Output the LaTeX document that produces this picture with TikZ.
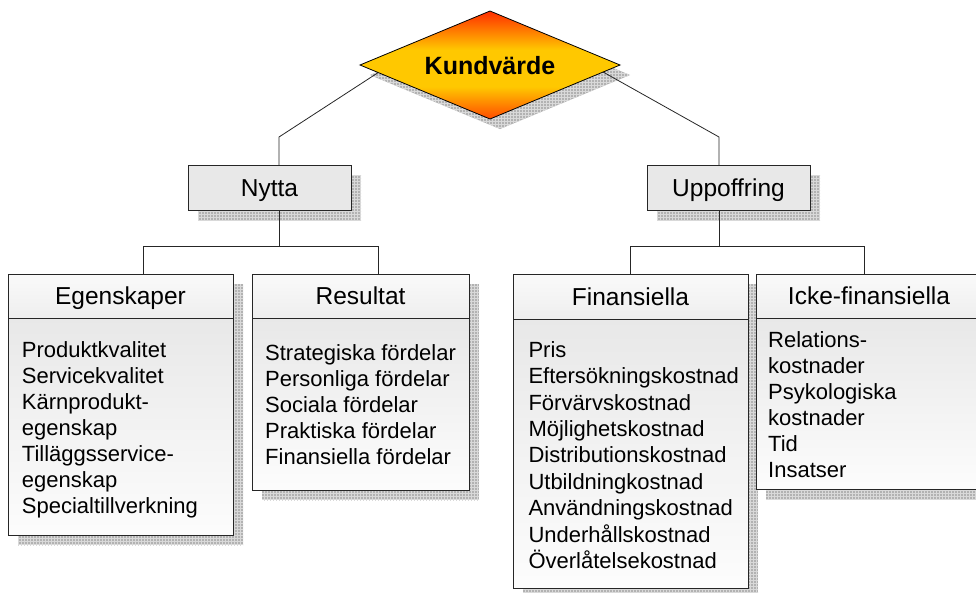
\documentclass[tikz,border=0pt]{standalone}
\usepackage{fontspec}
\setmainfont{Liberation Sans}
\usetikzlibrary{patterns,calc,shapes.geometric,backgrounds}
\definecolor{kvtop}{RGB}{255,45,0}
\definecolor{kvmid}{RGB}{255,200,0}
\definecolor{kvbot}{RGB}{255,75,0}
\pgfdeclareverticalshading{kvshade}{100bp}{color(0bp)=(kvbot); color(25bp)=(kvbot); color(40bp)=(kvmid); color(57bp)=(kvmid); color(75bp)=(kvtop); color(100bp)=(kvtop)}
\begin{document}
\begin{tikzpicture}[x=1pt,y=-1pt,
  shadowfill/.style={fill=gray!60},
  shadowgrid/.style={pattern=grid, pattern color=gray!30},
  conn/.style={draw=black!85, line width=0.8pt},
  lbl/.style={font=\fontsize{24.5}{28}\selectfont, text height=17.5pt, text depth=0pt, inner sep=0pt, outer sep=0pt, draw=black!85, line width=0.8pt},
  smallbox/.style={lbl, fill=gray!18},
  hdr/.style={lbl, top color=gray!4, bottom color=gray!13},
  bodybox/.style={draw=black!85, line width=0.8pt, top color=gray!18, bottom color=gray!2, inner sep=0pt, outer sep=0pt, anchor=north west},
  item/.style={font=\fontsize{22}{26}\selectfont, anchor=base west, inner sep=0pt},
]
\useasboundingbox (0,0) rectangle (976,592);

% top diamond
\node[diamond, aspect=2.4, minimum width=260pt, minimum height=108pt, inner sep=0pt, outer sep=0pt,
      shading=kvshade, draw=black, line width=0.8pt,
      font=\fontsize{25}{28}\selectfont\bfseries, text height=18pt, text depth=0pt] (kv) at (490,65) {Kundvärde};

% second level
\node[smallbox, minimum width=163pt, minimum height=45pt] (nytta) at (269.5,187.5) {Nytta};
\node[smallbox, minimum width=163pt, minimum height=45pt] (upp) at (728.5,187.5) {Uppoffring};

% third level headers and bodies
\node[hdr, anchor=north west, minimum width=225pt, minimum height=44pt] (egH) at (8,274) {Egenskaper};
\node[bodybox, minimum width=225pt, minimum height=217pt] (egB) at (8,318) {};
\node[hdr, anchor=north west, minimum width=217pt, minimum height=44pt] (reH) at (252,274) {Resultat};
\node[bodybox, minimum width=217pt, minimum height=172pt] (reB) at (252,318) {};
\node[hdr, anchor=north west, minimum width=235pt, minimum height=45pt] (fiH) at (513,274) {Finansiella};
\node[bodybox, minimum width=235pt, minimum height=269pt] (fiB) at (513,319) {};
\node[hdr, anchor=north west, minimum width=226pt, minimum height=44pt] (icH) at (756,274) {Icke-finansiella};
\node[bodybox, minimum width=226pt, minimum height=171pt] (icB) at (756,318) {};

% items
\foreach \t [count=\i from 0] in {Produktkvalitet,Servicekvalitet,Kärnprodukt-,egenskap,Tilläggsservice-,egenskap,Specialtillverkning}
  \node[item, name=eg\i] at (21.7,{357.5+26*\i}) {\t};
\foreach \t [count=\i from 0] in {Strategiska fördelar,Personliga fördelar,Sociala fördelar,Praktiska fördelar,Finansiella fördelar}
  \node[item, name=re\i] at (265,{360.5+26.1*\i}) {\t};
\foreach \t [count=\i from 0] in {Pris,Eftersökningskostnad,Förvärvskostnad,Möjlighetskostnad,Distributionskostnad,Utbildningkostnad,Användningskostnad,Underhållskostnad,Överlåtelsekostnad}
  \node[item, name=fi\i] at (528.3,{357.3+26.4*\i}) {\t};
\foreach \t [count=\i from 0] in {Relations-,kostnader,Psykologiska,kostnader,Tid,Insatser}
  \node[item, name=ic\i] at (768,{347.3+26*\i}) {\t};

% attachment points
\coordinate (kvL) at ($(kv.west)!0.14!(kv.south)$);
\coordinate (kvR) at ($(kv.east)!0.13!(kv.south)$);
\coordinate (nyT) at ($(nytta.north)+(9.5,0)$);
\coordinate (nyB) at ($(nytta.south)+(9.5,0)$);
\coordinate (upT) at ($(upp.north)+(-9.5,0)$);
\coordinate (upB) at ($(upp.south)+(-9.5,0)$);
\coordinate (egT) at ($(egH.north)+(23,0)$);
\coordinate (reT) at ($(reH.north)+(17.5,0)$);
\coordinate (fiT) at ($(fiH.north)+(-0.5,0)$);
\coordinate (icT) at ($(icH.north)+(-4.5,0)$);
\coordinate (nyJ) at (279,246.5);
\coordinate (upJ) at (719,246.5);

\begin{pgfonlayer}{background}
  % shadows
  \fill[shadowfill] ($(kv.north)+(10,10)$) -- ($(kv.east)+(10,10)$) -- ($(kv.south)+(10,10)$) -- ($(kv.west)+(10,10)$) -- cycle;
  \fill[shadowgrid] ($(kv.north)+(10,10)$) -- ($(kv.east)+(10,10)$) -- ($(kv.south)+(10,10)$) -- ($(kv.west)+(10,10)$) -- cycle;
  \foreach \a/\b in {nytta.north west/nytta.south east, upp.north west/upp.south east, egH.north west/egB.south east, reH.north west/reB.south east, fiH.north west/fiB.south east, icH.north west/icB.south east} {
    \fill[shadowfill] ($(\a)+(10,10)$) rectangle ($(\b)+(10,10)$);
    \fill[shadowgrid] ($(\a)+(10,10)$) rectangle ($(\b)+(10,10)$);
  }
  % connectors
  \draw[conn] (kvL) -- (nyT |- 0,137) -- (nyT);
  \draw[conn] (kvR) -- (upT |- 0,137) -- (upT);
  \draw[conn] (nyB) -- (nyJ);
  \draw[conn] (egT) |- (nyJ) -| (reT);
  \draw[conn] (upB) -- (upJ);
  \draw[conn] (fiT) |- (upJ) -| (icT);
\end{pgfonlayer}
\end{tikzpicture}
\end{document}
